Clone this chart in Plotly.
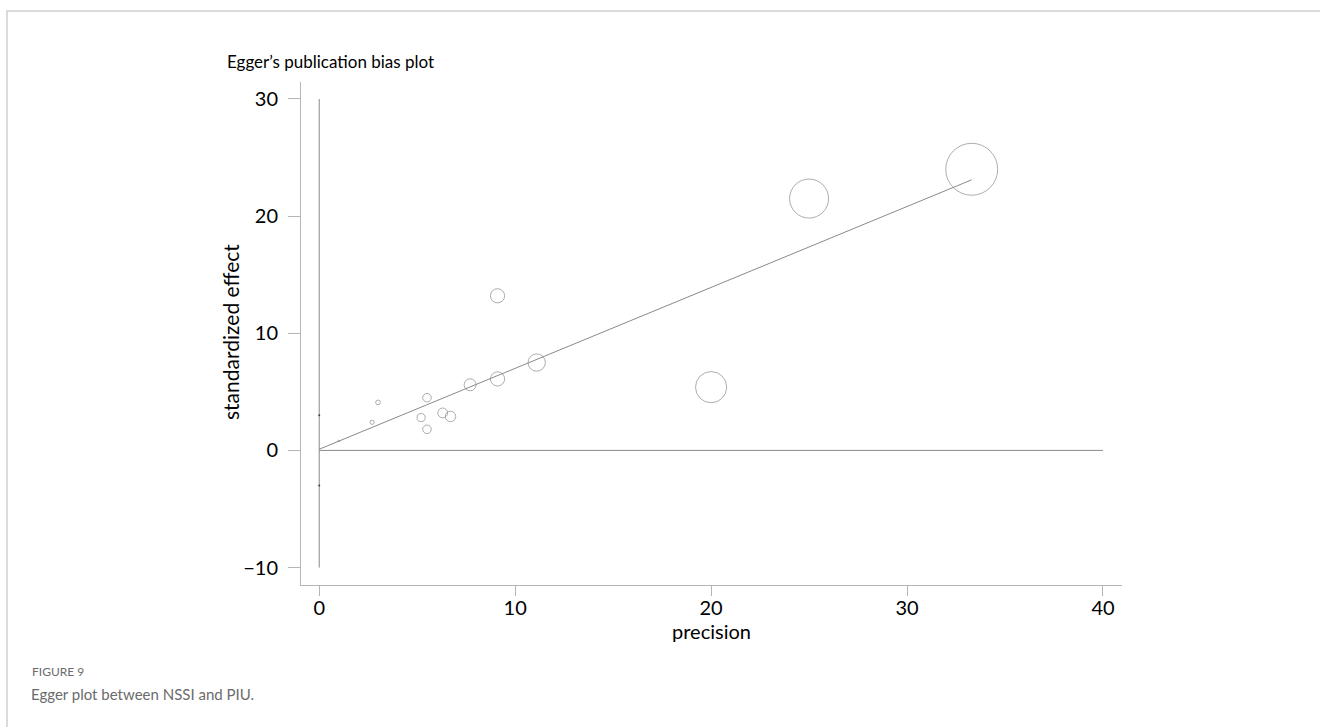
import plotly.graph_objects as go

# ---- data ----
precision = [1.0, 2.7, 3.0, 5.2, 5.5, 5.5, 6.3, 6.7, 7.7, 9.1, 9.1, 11.1, 20.0, 25.0, 33.3]
std_effect = [0.8, 2.4, 4.1, 2.8, 4.5, 1.8, 3.2, 2.9, 5.6, 6.1, 13.2, 7.5, 5.4, 21.5, 24.0]

reg_x = [0.0, 33.3]
reg_y = [0.1, 23.1]

vline_x = [0, 0]
vline_y = [-10, 30]
hline_x = [0, 40]
hline_y = [0, 0]

ci_x = [0, 0]
ci_y = [3.0, -3.0]

x_ticks = [0, 10, 20, 30, 40]
y_ticks = [-10, 0, 10, 20, 30]

FONT = "Lato"
LINE = "#8a8a8a"
AXIS = "#b5b5b5"

L, R, T, B = 301, 198, 82, 142
PW, PH = 1320 - L - R, 727 - T - B


def px(x):
    return (x - L) / PW


def py(y):
    return (727 - y - B) / PH


fig = go.Figure()

fig.add_trace(go.Scatter(x=vline_x, y=vline_y, mode="lines",
                         line=dict(color=LINE, width=1), hoverinfo="skip"))
fig.add_trace(go.Scatter(x=hline_x, y=hline_y, mode="lines",
                         line=dict(color=LINE, width=1), hoverinfo="skip"))
fig.add_trace(go.Scatter(x=reg_x, y=reg_y, mode="lines",
                         line=dict(color=LINE, width=1), hoverinfo="skip"))
fig.add_trace(go.Scatter(x=ci_x, y=ci_y, mode="markers",
                         marker=dict(color="#444", size=2), hoverinfo="skip"))
fig.add_trace(go.Scatter(
    x=precision, y=std_effect, mode="markers",
    marker=dict(symbol="circle-open", size=[p * 1.56 for p in precision],
                color="#8a8a8a", line=dict(width=1, color="#8a8a8a")),
))

fig.update_layout(
    width=1320, height=727,
    paper_bgcolor="white", plot_bgcolor="white",
    showlegend=False,
    margin=dict(l=L, r=R, t=T, b=B, autoexpand=False),
    font=dict(family=FONT, color="black"),
    xaxis=dict(range=[-0.93, 40.97], tickvals=x_ticks, ticks="outside", ticklen=10,
               tickcolor=AXIS, showline=True, linecolor=AXIS, linewidth=1,
               showgrid=False, zeroline=False, tickfont=dict(size=20, family=FONT),
               ticklabelstandoff=-5),
    yaxis=dict(range=[-11.49, 31.45], tickvals=y_ticks, ticks="outside", ticklen=12,
               tickcolor=AXIS, showline=True, linecolor=AXIS, linewidth=1,
               showgrid=False, zeroline=False, tickfont=dict(size=20, family=FONT),
               tickformat="d", ticklabelstandoff=6),
    shapes=[dict(type="rect", xref="paper", yref="paper", x0=px(7), x1=px(1340),
                 y0=py(760), y1=py(11), line=dict(color="#cfcfcf", width=1.5),
                 layer="below")],
    annotations=[
        dict(text="Egger\u2019s publication bias plot", xref="paper", yref="paper",
             x=px(225), y=py(62), xanchor="left", yanchor="middle",
             showarrow=False, font=dict(size=17, family=FONT, color="black")),
        dict(text="precision", xref="paper", yref="paper",
             x=px(711), y=py(631), xanchor="center", yanchor="middle",
             showarrow=False, font=dict(size=20, family=FONT, color="black")),
        dict(text="standardized effect", xref="paper", yref="paper", textangle=-90,
             x=px(230), y=py(332), xanchor="center", yanchor="middle",
             showarrow=False, font=dict(size=21, family=FONT, color="black")),
        dict(text="FIGURE 9", xref="paper", yref="paper",
             x=px(30), y=py(671), xanchor="left", yanchor="middle",
             showarrow=False, font=dict(size=12, family=FONT, color="#6b6b6b")),
        dict(text="Egger plot between NSSI and PIU.", xref="paper", yref="paper",
             x=px(29), y=py(694), xanchor="left", yanchor="middle",
             showarrow=False, font=dict(size=15, family=FONT, color="#6b6b6b")),
    ],
)

fig.write_html("out.html")
